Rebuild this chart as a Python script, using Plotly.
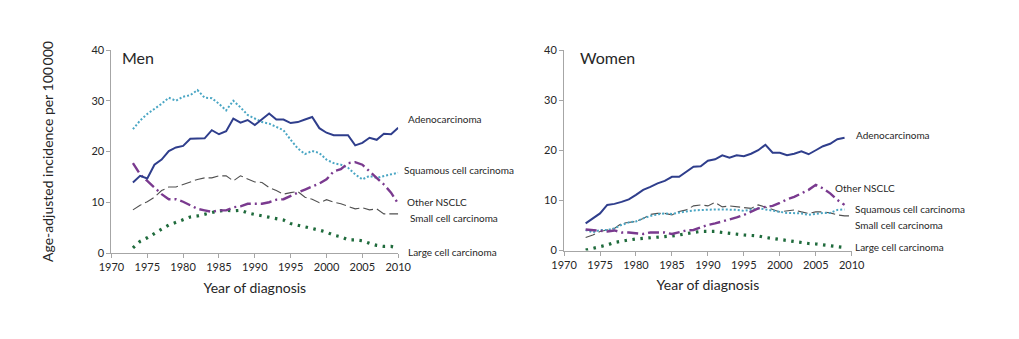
import plotly.graph_objects as go
from plotly.subplots import make_subplots

# Age-adjusted lung cancer incidence per 100 000, by histologic type
years_men = list(range(1973, 2011))
years_women = list(range(1973, 2010))
years_women_small = list(range(1973, 2011))

men_adeno = [13.9, 15.2, 14.7, 17.4, 18.4, 20.1, 20.8, 21.1, 22.5, 22.6,
             22.6, 24.2, 23.4, 24.0, 26.5, 25.7, 26.2, 25.2, 26.3, 27.5,
             26.3, 26.3, 25.6, 25.8, 26.3, 26.8, 24.6, 23.7, 23.2, 23.2,
             23.2, 21.2, 21.7, 22.7, 22.3, 23.5, 23.4, 24.7]
men_squamous = [24.4, 26.1, 27.4, 28.4, 29.4, 30.6, 30.0, 30.8, 31.1, 32.1,
                30.6, 30.5, 29.4, 28.1, 30.0, 28.7, 27.2, 26.5, 25.8, 25.5,
                24.8, 24.2, 22.3, 20.6, 19.5, 20.1, 19.7, 18.4, 17.7, 17.4,
                16.8, 15.5, 14.5, 15.2, 14.8, 15.2, 15.5, 15.8]
men_other = [17.7, 15.5, 14.2, 12.9, 11.6, 10.6, 10.6, 10.1, 9.4, 8.7,
             8.4, 8.1, 8.4, 8.4, 9.0, 9.2, 9.7, 9.7, 9.7, 10.0,
             10.5, 10.6, 11.3, 11.9, 12.5, 13.1, 13.7, 14.5, 16.1, 16.5,
             17.7, 17.9, 17.4, 16.1, 14.8, 13.5, 11.9, 9.7]
men_small = [8.5, 9.4, 10.1, 11.0, 12.3, 13.0, 13.0, 13.5, 14.1, 14.5,
             14.8, 14.8, 15.2, 15.2, 14.2, 15.2, 14.6, 14.0, 13.9, 12.9,
             12.3, 11.6, 11.9, 12.1, 11.0, 10.6, 9.9, 10.5, 10.0, 9.7,
             9.2, 8.7, 8.9, 8.5, 8.7, 7.7, 7.7, 7.7]
men_large = [1.0, 2.3, 3.0, 3.9, 4.7, 5.5, 6.0, 6.5, 7.1, 7.3,
             7.6, 7.9, 8.3, 8.4, 8.3, 8.4, 7.9, 7.6, 7.3, 7.1,
             6.8, 6.5, 5.8, 5.5, 5.2, 4.8, 4.5, 4.1, 3.5, 3.2,
             2.6, 2.6, 2.4, 1.9, 1.5, 1.3, 1.3, 1.0]

women_adeno = [5.4, 6.4, 7.4, 9.1, 9.3, 9.7, 10.2, 11.1, 12.1, 12.7,
               13.4, 13.9, 14.7, 14.7, 15.7, 16.7, 16.8, 17.9, 18.2, 19.0,
               18.5, 19.0, 18.8, 19.3, 20.0, 21.1, 19.5, 19.5, 19.0, 19.3,
               19.8, 19.2, 20.0, 20.8, 21.3, 22.2, 22.5]
women_squamous = [4.1, 3.6, 4.1, 4.1, 4.4, 5.1, 5.6, 5.8, 6.4, 6.9,
                  7.2, 7.4, 7.3, 7.6, 7.8, 8.0, 8.1, 8.1, 8.2, 8.2,
                  8.2, 8.1, 7.9, 8.2, 8.4, 8.2, 7.9, 7.7, 7.5, 7.4,
                  7.4, 7.1, 7.3, 7.5, 7.5, 8.1, 8.2]
women_other = [4.2, 4.1, 4.0, 3.8, 4.0, 3.6, 3.6, 3.4, 3.3, 3.6,
               3.6, 3.6, 3.3, 3.6, 4.0, 4.1, 4.6, 5.1, 5.4, 5.8,
               6.1, 6.6, 7.1, 7.7, 8.4, 8.7, 8.9, 9.5, 10.2, 10.7,
               11.4, 12.1, 13.1, 12.4, 11.4, 10.1, 9.1]
women_small = [2.6, 3.1, 3.8, 4.1, 4.4, 5.4, 5.6, 5.8, 6.4, 7.2,
               7.4, 7.4, 7.1, 7.8, 8.1, 8.9, 9.1, 8.9, 9.6, 8.7,
               8.9, 8.7, 8.5, 8.4, 9.1, 8.7, 8.2, 7.7, 7.9, 8.1,
               7.7, 7.4, 7.7, 7.7, 7.5, 7.1, 6.9, 6.9]
women_large = [0.1, 0.4, 0.8, 1.1, 1.6, 1.9, 2.1, 2.3, 2.4, 2.6,
               2.6, 2.8, 2.9, 3.1, 3.4, 3.6, 3.8, 3.8, 3.8, 3.6,
               3.4, 3.3, 3.1, 3.0, 2.9, 2.6, 2.4, 2.1, 2.0, 1.8,
               1.6, 1.4, 1.3, 1.1, 1.0, 0.8, 0.6]

x_ticks = list(range(1970, 2011, 5))
y_ticks = [0, 10, 20, 30, 40]

FONT = "Lato, 'Open Sans', sans-serif"
AXIS_GREY = "#a6a6a6"
TEXT = "#262626"

styles = {
    "adeno": dict(color="#2f3e8c", width=2.0, dash="solid"),
    "squamous": dict(color="#4aa6c4", width=2.0, dash="2px,2px"),
    "other": dict(color="#7a3a8f", width=2.4, dash="11px,4px,2px,4px"),
    "small": dict(color="#505050", width=1.1, dash="10px,4px"),
    "large": dict(color="#1f6b3c", width=3.2, dash="2.5px,5.5px"),
}

fig = make_subplots(rows=1, cols=2)

men = [("small", years_men, men_small), ("large", years_men, men_large),
       ("squamous", years_men, men_squamous), ("other", years_men, men_other),
       ("adeno", years_men, men_adeno)]
women = [("small", years_women_small, women_small), ("large", years_women, women_large),
         ("squamous", years_women, women_squamous), ("other", years_women, women_other),
         ("adeno", years_women, women_adeno)]

for col, series in ((1, men), (2, women)):
    for key, xs, ys in series:
        fig.add_trace(go.Scatter(x=xs, y=ys, mode="lines", line=styles[key],
                                 showlegend=False, hoverinfo="skip"),
                      row=1, col=col)

W, H = 1019, 339
T, B = 50, 86
PH = H - T - B


def px(x):
    return x / W


def py(y):
    return (H - B - y) / PH


axis_common = dict(showgrid=False, zeroline=False, showline=True, linecolor=AXIS_GREY,
                   linewidth=1, ticks="outside", tickcolor=AXIS_GREY, ticklen=4,
                   tickfont=dict(family=FONT, size=11, color=TEXT))

fig.update_xaxes(axis_common, range=[1970, 2010], tickvals=x_ticks,
                 title=dict(text="Year of diagnosis", font=dict(family=FONT, size=14, color=TEXT),
                            standoff=10))
fig.update_yaxes(axis_common, range=[0, 40], tickvals=y_ticks)

fig.update_layout(
    width=W, height=H,
    margin=dict(l=0, r=0, t=T, b=B),
    paper_bgcolor="white", plot_bgcolor="white",
    xaxis=dict(domain=[px(101), px(395.3)]),
    xaxis2=dict(domain=[px(565.5), px(860.7)]),
    yaxis=dict(domain=[0, 1],
               title=dict(text="Age-adjusted incidence per 100\u2009000",
                          font=dict(family=FONT, size=14, color=TEXT), standoff=34)),
    yaxis2=dict(domain=[py(250.5), 1]),
    font=dict(family=FONT, color=TEXT),
)

annotations = [
    ("Men", 110, 58, 16),
    ("Women", 580, 58, 16),
    ("Adenocarcinoma", 403, 119, 10),
    ("Squamous cell carcinoma", 399, 170, 10),
    ("Other NSCLC", 402, 202, 10),
    ("Small cell carcinoma", 405, 218, 10),
    ("Large cell carcinoma", 403, 252, 10),
    ("Adenocarcinoma", 863, 135, 10),
    ("Other NSCLC", 841, 188, 10),
    ("Squamous cell carcinoma", 862, 209, 10),
    ("Small cell carcinoma", 862, 225, 10),
    ("Large cell carcinoma", 862, 247, 10),
]
for text, x, y, size in annotations:
    fig.add_annotation(text=text, x=px(x), y=py(y), xref="paper", yref="paper",
                       xanchor="left", yanchor="middle", showarrow=False,
                       font=dict(family=FONT, size=size, color=TEXT))

fig.write_html("out.html")
